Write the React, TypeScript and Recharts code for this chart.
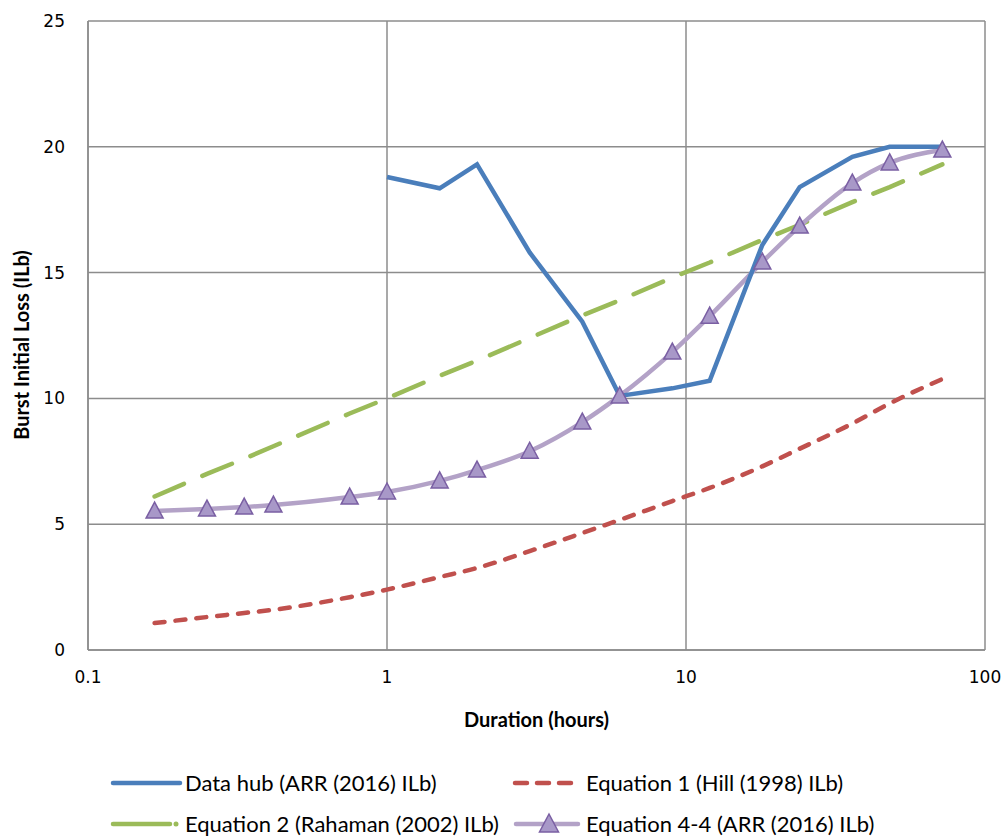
import React from 'react';
import { LineChart, Line, XAxis, YAxis, CartesianGrid, Label } from 'recharts';

const durations = [0.167, 0.25, 0.333, 0.417, 0.75, 1, 1.5, 2, 3, 4.5, 6, 9, 12, 18, 24, 36, 48, 72];
const dataHub = [null, null, null, null, null, 18.8, 18.35, 19.3, 15.8, 13.05, 10.1, 10.4, 10.7, 16.1, 18.4, 19.6, 20.0, 20.0];
const hill = [1.07, 1.31, 1.47, 1.6, 2.1, 2.4, 2.9, 3.26, 3.93, 4.65, 5.17, 5.92, 6.44, 7.3, 8.0, 9.0, 9.8, 10.77];
const rahaman = [6.1, 7.0, 7.6, 8.1, 9.4, 10.0, 10.9, 11.5, 12.4, 13.3, 13.9, 14.8, 15.4, 16.3, 16.9, 17.8, 18.4, 19.3];
const eq44 = [5.52, 5.6, 5.68, 5.76, 6.08, 6.28, 6.72, 7.15, 7.9, 9.06, 10.1, 11.84, 13.27, 15.42, 16.85, 18.56, 19.36, 19.87];

const xTicks = [0.1, 1, 10, 100];
const yTicks = [0, 5, 10, 15, 20, 25];

const seriesNames = [
  'Data hub (ARR (2016) ILb)',
  'Equation 1 (Hill (1998) ILb)',
  'Equation 2 (Rahaman (2002) ILb)',
  'Equation 4-4 (ARR (2016) ILb)',
];

const data = durations.map((d, i) => ({
  d,
  hub: dataHub[i],
  hill: hill[i],
  rahaman: rahaman[i],
  eq44: eq44[i],
}));

const BLUE = '#4a7ebb';
const RED = '#c0504d';
const GREEN = '#9bbb59';
const PURPLE = '#b3a2c7';
const TRI_FILL = '#a898c8';
const TRI_STROKE = '#7a5fa3';
const GRID = '#8c8c8c';

const tickFont = { fontFamily: 'DejaVu Sans', fontSize: 17, fill: '#000' };
const titleStyle = { fontFamily: 'Lato', fontWeight: 700, fontSize: 20, fill: '#000' };

const Triangle = (props: any) => {
  const { cx, cy, index } = props;
  if (cx == null || cy == null) return <g key={index} />;
  const pts = `${cx},${cy - 9} ${cx - 8.5},${cy + 7} ${cx + 8.5},${cy + 7}`;
  return <polygon key={index} points={pts} fill={TRI_FILL} stroke={TRI_STROKE} strokeWidth={1.5} />;
};

// one legend entry: icon svg spans [iconLeft, textLeft), label starts at textLeft
const LegendItem = ({ iconLeft, textLeft, cy, icon, text }: { iconLeft: number; textLeft: number; cy: number; icon: React.ReactNode; text: string }) => (
  <>
    <svg width={textLeft - iconLeft} height={24} style={{ position: 'absolute', left: iconLeft, top: cy - 12, display: 'block' }}>
      {icon}
    </svg>
    <span
      style={{
        position: 'absolute',
        left: textLeft,
        top: cy - 11,
        lineHeight: '22px',
        fontFamily: 'Lato',
        fontSize: 22,
        color: '#000',
        whiteSpace: 'nowrap',
      }}
    >
      {text}
    </span>
  </>
);

export default function App() {
  return (
    <div style={{ position: 'absolute', left: 0, top: 0, width: 1004, height: 836, background: '#fff', overflow: 'hidden' }}>
      <LineChart width={1004} height={836} data={data} margin={{ top: 21, right: 19, left: 0, bottom: 106 }}>
        <CartesianGrid stroke={GRID} strokeWidth={1.5} />
        <XAxis
          dataKey="d"
          type="number"
          scale="log"
          domain={[0.1, 100]}
          ticks={xTicks}
          allowDataOverflow
          height={80}
          tickLine={false}
          tickSize={0}
          tickMargin={21}
          axisLine={{ stroke: GRID, strokeWidth: 1.5 }}
          tick={tickFont}
          tickFormatter={(v: number) => String(v)}
        >
          <Label value="Duration (hours)" position="insideBottom" offset={3} style={titleStyle} />
        </XAxis>
        <YAxis
          type="number"
          domain={[0, 25]}
          ticks={yTicks}
          width={88}
          tickLine={false}
          tickSize={0}
          tickMargin={23}
          axisLine={{ stroke: GRID, strokeWidth: 1.5 }}
          tick={tickFont}
        >
          <Label
            content={() => (
              <text x={29} y={345} transform="rotate(-90 29 345)" textAnchor="middle" style={titleStyle}>
                Burst Initial Loss (ILb)
              </text>
            )}
          />
        </YAxis>
        <Line dataKey="rahaman" name={seriesNames[2]} type="linear" stroke={GREEN} strokeWidth={4.5} strokeDasharray="32 20" strokeLinecap="round" dot={false} isAnimationActive={false} />
        <Line dataKey="hill" name={seriesNames[1]} type="monotone" stroke={RED} strokeWidth={4.5} strokeDasharray="10 11" strokeLinecap="round" dot={false} isAnimationActive={false} />
        <Line dataKey="eq44" name={seriesNames[3]} type="monotone" stroke={PURPLE} strokeWidth={4.5} dot={<Triangle />} isAnimationActive={false} />
        <Line dataKey="hub" name={seriesNames[0]} type="linear" stroke={BLUE} strokeWidth={4.5} dot={false} connectNulls={false} isAnimationActive={false} />
      </LineChart>

      <LegendItem
        iconLeft={110}
        textLeft={185}
        cy={783}
        icon={<line x1={3} y1={12} x2={70} y2={12} stroke={BLUE} strokeWidth={4.5} strokeLinecap="round" />}
        text={seriesNames[0]}
      />
      <LegendItem
        iconLeft={510}
        textLeft={586}
        cy={783}
        icon={<line x1={5} y1={12} x2={61} y2={12} stroke={RED} strokeWidth={4.5} strokeDasharray="12 10" strokeLinecap="round" />}
        text={seriesNames[1]}
      />
      <LegendItem
        iconLeft={110}
        textLeft={185}
        cy={824}
        icon={
          <g>
            <line x1={3} y1={12} x2={60} y2={12} stroke={GREEN} strokeWidth={4.5} strokeLinecap="round" />
            <circle cx={66} cy={12} r={2.5} fill={GREEN} />
          </g>
        }
        text={seriesNames[2]}
      />
      <LegendItem
        iconLeft={510}
        textLeft={586}
        cy={824}
        icon={
          <g>
            <line x1={6} y1={12} x2={68} y2={12} stroke={PURPLE} strokeWidth={4.5} strokeLinecap="round" />
            <polygon points="39,2 29.5,20 48.5,20" fill={TRI_FILL} stroke={TRI_STROKE} strokeWidth={1.5} />
          </g>
        }
        text={seriesNames[3]}
      />
    </div>
  );
}
